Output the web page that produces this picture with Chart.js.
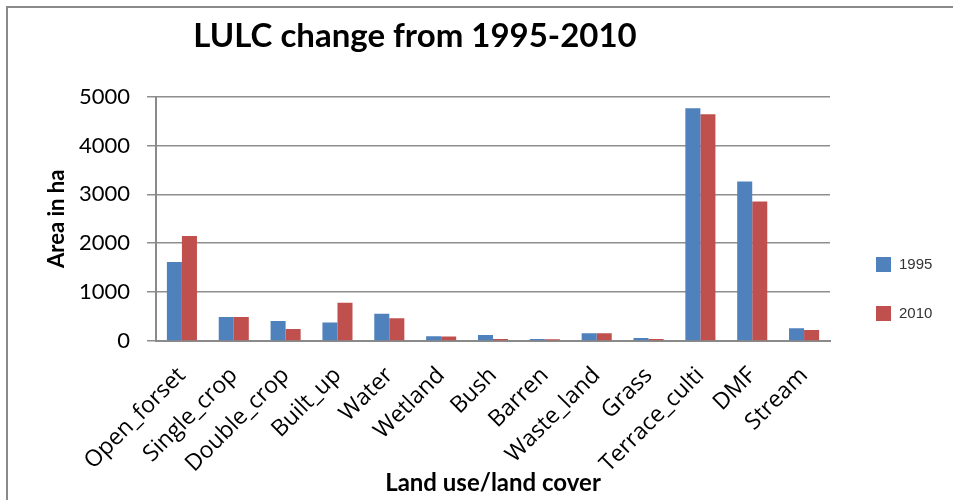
<!DOCTYPE html>
<html>
<head>
<meta charset="utf-8">
<title>LULC change from 1995-2010</title>
<script src="https://cdn.jsdelivr.net/npm/chart.js@4.4.1/dist/chart.umd.min.js"></script>
<style>
  html, body { margin: 0; padding: 0; background: #fff; }
  #wrap { position: relative; width: 953px; height: 500px; overflow: hidden; }
  #frame { position: absolute; left: 6px; top: 6px; width: 960px; height: 510px;
           border-top: 2px solid #8a8a8a; border-left: 2px solid #8a8a8a; box-sizing: border-box; }
  canvas { position: absolute; left: 0; top: 0; }
</style>
</head>
<body>
<div id="wrap">
  <div id="frame"></div>
  <canvas id="lulcChart" width="953" height="500"></canvas>
</div>
<script>
// Land use / land cover classes and their areas (ha)
const categories = ['Open_forset', 'Single_crop', 'Double_crop', 'Built_up', 'Water', 'Wetland',
  'Bush', 'Barren', 'Waste_land', 'Grass', 'Terrace_culti', 'DMF', 'Stream'];
const area1995 = [1615, 490, 410, 376, 560, 96, 123, 41, 157, 62, 4760, 3265, 260];
const area2010 = [2150, 490, 246, 780, 465, 90, 41, 34, 157, 41, 4637, 2852, 226];
const yTicks = [0, 1000, 2000, 3000, 4000, 5000];

const calibri = 'Lato, "Open Sans", sans-serif';

// Legend on the right, drawn by hand so it sits where it should
const sideLegend = {
    id: 'sideLegend',
    afterDraw(chart) {
        const ctx = chart.ctx;
        const items = chart.data.datasets;
        ctx.save();
        ctx.font = '15px "Liberation Sans", Arial, sans-serif';
        ctx.textBaseline = 'middle';
        items.forEach((ds, i) => {
            const y = 257 + i * 49;
            ctx.fillStyle = ds.backgroundColor;
            ctx.fillRect(876, y, 15, 15);
            ctx.fillStyle = '#333';
            ctx.fillText(ds.label, 899, y + 8);
        });
        ctx.restore();
    }
};

const ctx = document.getElementById('lulcChart').getContext('2d');
const lulcChart = new Chart(ctx, {
    type: 'bar',
    data: {
        labels: categories,
        datasets: [
            { label: '1995', data: area1995, backgroundColor: '#4f81bd' },
            { label: '2010', data: area2010, backgroundColor: '#c0504d' }
        ]
    },
    options: {
        responsive: false,
        animation: false,
        layout: { padding: { left: 0, right: 123, top: 0, bottom: 0 } },
        datasets: {
            bar: { categoryPercentage: 0.58, barPercentage: 1.0 }
        },
        plugins: {
            legend: { display: false },
            tooltip: { enabled: false },
            title: {
                display: true,
                text: 'LULC change from 1995-2010',
                color: '#000',
                font: { family: calibri, size: 33, weight: 'bold' },
                padding: { top: 17, bottom: 40 }
            }
        },
        scales: {
            x: {
                grid: { display: false, drawTicks: false },
                border: { color: '#8a8a8a', width: 2 },
                ticks: {
                    color: '#000',
                    font: { family: '"Open Sans", sans-serif', size: 23 },
                    minRotation: 45,
                    maxRotation: 45,
                    padding: 21,
                    autoSkip: false
                },
                title: {
                    display: true,
                    text: 'Land use/land cover',
                    color: '#000',
                    font: { family: calibri, size: 24, weight: 'bold' },
                    padding: { top: 2, bottom: 2 }
                },
                afterFit: scale => { scale.height = 159; }
            },
            y: {
                min: 0,
                max: 5000,
                afterBuildTicks: scale => { scale.ticks = yTicks.map(v => ({ value: v })); },
                grid: { color: '#8e8e8e', lineWidth: 1.5, tickLength: 9 },
                border: { color: '#8a8a8a', width: 2 },
                ticks: {
                    color: '#000',
                    font: { family: calibri, size: 22 },
                    padding: 17,
                    callback: v => String(v)
                },
                title: {
                    display: true,
                    text: 'Area in ha',
                    color: '#000',
                    font: { family: calibri, size: 22, weight: 'bold' },
                    padding: { top: 44, bottom: 0 }
                },
                afterFit: scale => { scale.width = 156; }
            }
        }
    },
    plugins: [sideLegend]
});
</script>
</body>
</html>
